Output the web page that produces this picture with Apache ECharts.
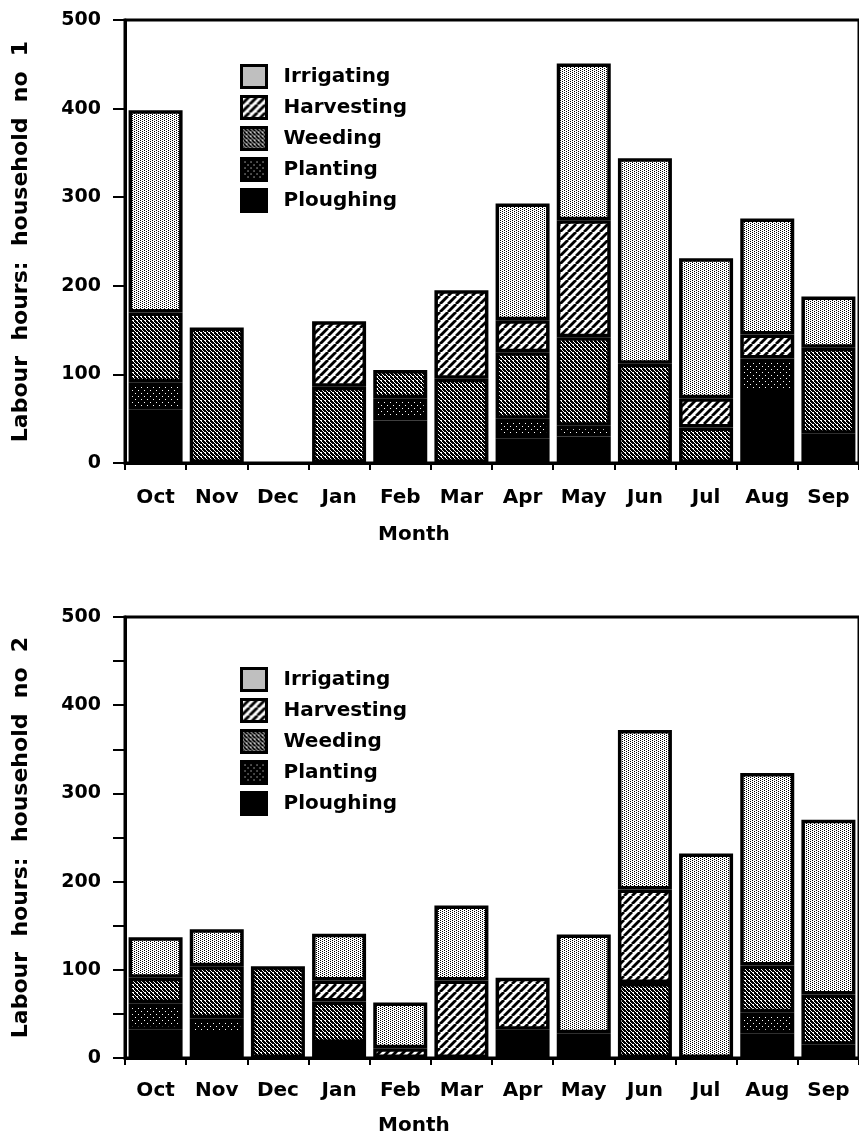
<!DOCTYPE html>
<html>
<head>
<meta charset="utf-8">
<script src="https://cdn.jsdelivr.net/npm/echarts@6/dist/echarts.min.js"></script>
<style>
html,body{margin:0;padding:0;background:#fff;}
#chart{width:859px;height:1136px;}
</style>
</head>
<body>
<div id="chart"></div>
<script>
// ---- data ----
var months = ['Oct','Nov','Dec','Jan','Feb','Mar','Apr','May','Jun','Jul','Aug','Sep'];
var activities = ['Irrigating','Harvesting','Weeding','Planting','Ploughing'];
var yTicks = [0, 100, 200, 300, 400, 500];

// household no 1
var ploughing1  = [60, 0, 0, 0, 48, 0, 28, 30, 0, 0, 80, 33];
var planting1   = [31, 0, 0, 0, 25, 0, 22, 12, 0, 0, 38, 0];
var weeding1    = [79, 153, 0, 86, 32, 95, 75, 100, 112, 40, 0, 97];
var harvesting1 = [0, 0, 0, 74, 0, 100, 36, 132, 0, 33, 27, 0];
var irrigating1 = [228, 0, 0, 0, 0, 0, 132, 177, 232, 158, 131, 58];

// household no 2
var ploughing2  = [32, 26, 0, 17, 0, 0, 32, 28, 0, 0, 28, 15];
var planting2   = [30, 19, 0, 0, 0, 0, 0, 0, 0, 0, 24, 0];
var weeding2    = [29, 59, 104, 47, 0, 0, 0, 0, 85, 0, 53, 57];
var harvesting2 = [0, 0, 0, 24, 11, 88, 59, 0, 106, 0, 0, 0];
var irrigating2 = [46, 42, 0, 53, 52, 85, 0, 112, 181, 232, 218, 198];

// ---- patterns ----
function makeCanvas(w, h, draw){
  var c = document.createElement('canvas');
  c.width = w; c.height = h;
  var g = c.getContext('2d');
  draw(g, w, h);
  return c;
}
var patIrrigating = makeCanvas(4, 4, function(g){
  g.fillStyle = '#fff'; g.fillRect(0,0,4,4);
  g.fillStyle = '#000';
  g.fillRect(0,0,1,1); g.fillRect(2,1,1,1); g.fillRect(0,2,1,1); g.fillRect(2,3,1,1);
});
var patHarvesting = makeCanvas(8, 8, function(g){
  g.fillStyle = '#fff'; g.fillRect(0,0,8,8);
  g.strokeStyle = '#000'; g.lineWidth = 2.8;
  [-8, 0, 8].forEach(function(o){
    g.beginPath(); g.moveTo(o, 8); g.lineTo(o + 8, 0); g.stroke();
  });
});
var patWeeding = makeCanvas(4, 4, function(g){
  g.fillStyle = '#000'; g.fillRect(0,0,4,4);
  g.fillStyle = '#fff';
  g.fillRect(0,0,1,1); g.fillRect(2,2,1,1); g.fillRect(1,1,1,1); g.fillRect(3,3,1,1); g.fillRect(1,0,1,1);
});
var patPlanting = makeCanvas(6, 6, function(g){
  g.fillStyle = '#000'; g.fillRect(0,0,6,6);
  g.fillStyle = '#fff';
  g.fillRect(0,0,1,1); g.fillRect(3,3,1,1);
});
function pat(c){ return {image: c, repeat: 'repeat'}; }

var styles = {
  'Irrigating': pat(patIrrigating),
  'Harvesting': pat(patHarvesting),
  'Weeding': pat(patWeeding),
  'Planting': pat(patPlanting),
  'Ploughing': '#000'
};

var FONT = 'DejaVu Sans';
var chart = echarts.init(document.getElementById('chart'), null, {renderer: 'canvas'});

function nz(arr){ return arr.map(function(v){ return v === 0 ? '-' : v; }); }

function makeSeries(idx, stackName, data){
  var order = ['Ploughing','Planting','Weeding','Harvesting','Irrigating'];
  return order.map(function(name){
    return {
      name: name,
      type: 'bar',
      xAxisIndex: idx,
      yAxisIndex: idx,
      stack: stackName,
      barWidth: 54,
      data: nz(data[name]),
      itemStyle: {color: styles[name], borderColor: '#000', borderWidth: 3.5},
      emphasis: {disabled: true},
      animation: false
    };
  });
}

function xAxisCfg(idx, margin){
  return {
    type: 'category',
    gridIndex: idx,
    data: months,
    axisLine: {lineStyle: {color: '#000', width: 3}},
    axisTick: {show: true, length: 7, lineStyle: {color: '#000', width: 2}},
    axisLabel: {color: '#000', fontFamily: FONT, fontWeight: 'bold', fontSize: 20, margin: margin}
  };
}
function yAxisCfg(idx, title, minor){
  return {
    type: 'value',
    gridIndex: idx,
    min: yTicks[0], max: yTicks[yTicks.length - 1], interval: yTicks[1] - yTicks[0],
    name: title,
    nameLocation: 'middle',
    nameGap: 93,
    nameTextStyle: {color: '#000', fontFamily: FONT, fontWeight: 'bold', fontSize: 22},
    axisLine: {show: true, lineStyle: {color: '#000', width: 3}},
    axisTick: {show: true, length: 12, lineStyle: {color: '#000', width: 2}},
    minorTick: {show: minor, splitNumber: 2, length: 12, lineStyle: {color: '#000', width: 2}},
    splitLine: {show: false},
    axisLabel: {color: '#000', fontFamily: FONT, fontWeight: 'bold', fontSize: 19, margin: 24}
  };
}
function legendCfg(top){
  return {
    orient: 'vertical',
    left: 235,
    top: top,
    data: activities,
    icon: 'rect',
    itemWidth: 25,
    itemHeight: 22,
    itemGap: 6,
    selectedMode: false,
    itemStyle: {borderColor: '#000', borderWidth: 3},
    textStyle: {color: '#000', fontFamily: FONT, fontWeight: 'bold', fontSize: 20, padding: [0, 0, 0, 12]}
  };
}

var data1 = {Ploughing: ploughing1, Planting: planting1, Weeding: weeding1, Harvesting: harvesting1, Irrigating: irrigating1};
var data2 = {Ploughing: ploughing2, Planting: planting2, Weeding: weeding2, Harvesting: harvesting2, Irrigating: irrigating2};

var option = {
  backgroundColor: '#fff',
  animation: false,
  grid: [
    {left: 125, top: 20, width: 745, height: 443, show: true, borderColor: '#000', borderWidth: 3, backgroundColor: 'transparent'},
    {left: 125, top: 617, width: 745, height: 441, show: true, borderColor: '#000', borderWidth: 3, backgroundColor: 'transparent'}
  ],
  legend: [legendCfg(59), legendCfg(662)],
  xAxis: [xAxisCfg(0, 25), xAxisCfg(1, 23)],
  yAxis: [
    yAxisCfg(0, 'Labour  hours:  household  no  1', false),
    yAxisCfg(1, 'Labour  hours:  household  no  2', true)
  ],
  graphic: [
    {type: 'text', left: 378, top: 525, style: {text: 'Month', font: 'bold 20px "DejaVu Sans"', fill: '#000'}},
    {type: 'text', left: 378, top: 1116, style: {text: 'Month', font: 'bold 20px "DejaVu Sans"', fill: '#000'}}
  ],
  series: makeSeries(0, 'h1', data1).concat(makeSeries(1, 'h2', data2))
};
chart.setOption(option);
</script>
</body>
</html>
